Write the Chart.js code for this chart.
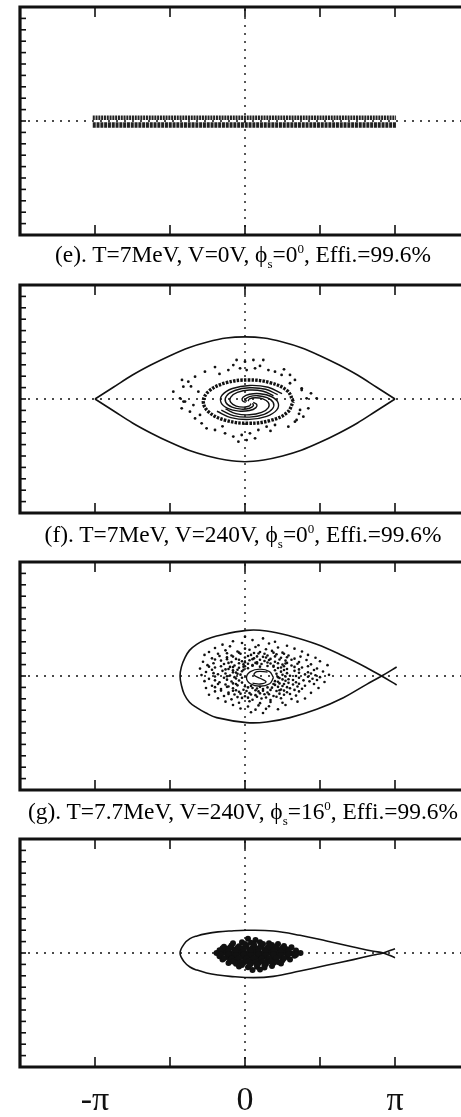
<!DOCTYPE html>
<html>
<head>
<meta charset="utf-8">
<script src="https://cdn.jsdelivr.net/npm/chart.js@4.4.1/dist/chart.umd.min.js"></script>
<style>
  html, body { margin: 0; padding: 0; background: #fff; overflow: hidden; }
  body { width: 461px; height: 1117px; position: relative; }
  canvas { position: absolute; left: 0; }
  .cap { position: absolute; left: 20px; width: 446px; text-align: center; font-family: "Liberation Serif", "Times New Roman", serif;
         font-size: 23.4px; line-height: 23px; color: #000; white-space: nowrap; }
  .cap sub, .cap sup { font-size: 13px; line-height: 0; }
</style>
</head>
<body>
<canvas id="pe" width="461" height="243" style="top:0px"></canvas>
<div class="cap" style="top:243px">(e). T=7MeV, V=0V, ϕ<sub>s</sub>=0<sup>0</sup>, Effi.=99.6%</div>
<canvas id="pf" width="461" height="244" style="top:277px"></canvas>
<div class="cap" style="top:523px">(f). T=7MeV, V=240V, ϕ<sub>s</sub>=0<sup>0</sup>, Effi.=99.6%</div>
<canvas id="pg" width="461" height="244" style="top:554px"></canvas>
<div class="cap" style="top:800px">(g). T=7.7MeV, V=240V, ϕ<sub>s</sub>=16<sup>0</sup>, Effi.=99.6%</div>
<canvas id="ph" width="461" height="286" style="top:831px"></canvas>
<script>
// phase axis in units of pi, energy axis in arbitrary units
const xRange = [-1.5, 1.44];
const yRange = [-10, 10];
const xTicks = [-1, -0.5, 0, 0.5, 1];
const xLabelValues = [-1, 0, 1];
const xLabelTexts = ["-π", "0", "π"];
const yTicks = [-9, -8, -7, -6, -5, -4, -3, -2, -1, 0, 1, 2, 3, 4, 5, 6, 7, 8, 9];

const zeroH = [[-1.5, 0], [1.44, 0]];
const zeroV = [[0, -10], [0, 10]];

// (e) unbunched beam band
const eBandUpper = [[-1.015, 0.28], [1.007, 0.28]];
const eBandLower = [[-1.015, -0.36], [1.007, -0.36]];

// (f) stationary bucket
const fSepX = [-1, -0.875, -0.75, -0.625, -0.5, -0.375, -0.25, -0.125, 0, 0.125, 0.25, 0.375, 0.5, 0.625, 0.75, 0.875, 1];
const fSepTop = [0, 1.05, 2.1, 3.0, 3.8, 4.5, 5.0, 5.35, 5.45, 5.35, 5.0, 4.5, 3.8, 3.0, 2.1, 1.05, 0];
const fSepBottom = [0, -1.05, -2.1, -3.0, -3.8, -4.5, -5.0, -5.35, -5.5, -5.35, -5.0, -4.5, -3.8, -3.0, -2.1, -1.05, 0];
const fRing = [[0.322, -0.23], [0.282, 0.72], [0.172, 1.415], [0.022, 1.67], [-0.128, 1.415], [-0.238, 0.72], [-0.278, -0.23],
  [-0.238, -1.18], [-0.128, -1.875], [0.022, -2.13], [0.172, -1.875], [0.282, -1.18], [0.322, -0.23]];
const fArmA0 = [[0.005, -0.3], [-0.018, -0.13], [-0.013, 0.156], [0.03, 0.413], [0.101, 0.466], [0.175, 0.219], [0.22, -0.3],
  [0.212, -0.951], [0.144, -1.521], [0.03, -1.788], [-0.094, -1.628], [-0.187, -1.075]];
const fArmA1 = [[0.01, -0.23], [0.004, -0.018], [0.03, 0.212], [0.085, 0.291], [0.147, 0.119], [0.188, -0.3], [0.184, -0.85],
  [0.128, -1.346], [0.03, -1.587], [-0.078, -1.455], [-0.158, -0.974]];
const fArmA2 = [[0.02, -0.193], [0.03, 0.01], [0.069, 0.115], [0.119, 0.018], [0.155, -0.3], [0.156, -0.75], [0.111, -1.173],
  [0.03, -1.385], [-0.061, -1.28], [-0.13, -0.874]];
const fArmB0 = [[0.055, -0.3], [0.078, -0.47], [0.073, -0.756], [0.03, -1.013], [-0.041, -1.066], [-0.115, -0.819], [-0.16, -0.3],
  [-0.152, 0.351], [-0.084, 0.921], [0.03, 1.188], [0.154, 1.028], [0.247, 0.475]];
const fArmB1 = [[0.05, -0.37], [0.056, -0.582], [0.03, -0.812], [-0.025, -0.891], [-0.087, -0.719], [-0.128, -0.3], [-0.124, 0.25],
  [-0.068, 0.746], [0.03, 0.987], [0.138, 0.855], [0.218, 0.374]];
const fArmB2 = [[0.04, -0.407], [0.03, -0.61], [-0.009, -0.715], [-0.059, -0.618], [-0.095, -0.3], [-0.096, 0.15], [-0.051, 0.573],
  [0.03, 0.785], [0.121, 0.68], [0.19, 0.274]];
const fHalo = [[-0.056, 3.42], [0, 3.27], [0.056, 3.42], [0.122, 3.42], [-0.033, 2.69], [0.011, 2.54], [0.067, 2.69], [-0.111, 2.54],
  [0.156, 2.54], [0.2, 2.4], [0.244, 2.11], [0.3, 2.11], [-0.078, 2.98], [-0.267, 2.4], [-0.333, 1.96], [-0.378, 1.52],
  [-0.411, 1.08], [-0.433, 0.06], [-0.4, -0.23], [-0.422, -0.82], [-0.367, -1.11], [-0.333, -1.7], [-0.289, -2.13],
  [-0.256, -2.57], [-0.311, 0.64], [-0.344, -0.53], [-0.478, 0.64], [-0.42, 1.67], [-0.41, -0.23], [0.333, 1.67],
  [0.378, 0.94], [0.411, 0.06], [0.478, 0.06], [0.422, -0.82], [0.389, -1.55], [0.333, -1.99], [0.289, -2.43], [0.367, -0.96],
  [0.3, 1.38], [0.378, 0.79], [0.344, -1.84], [-0.2, -2.72], [-0.133, -3.01], [-0.078, -3.3], [-0.022, -3.16], [0.033, -3.01],
  [0.089, -2.72], [0.144, -2.43], [0.2, -2.28], [-0.044, -3.74], [0.011, -3.6], [0.067, -3.45], [-0.2, 2.8], [0.26, 2.6],
  [-0.17, 2.2], [0.1, 2.9], [-0.3, -1.4], [0.36, -1.3], [0.44, 0.5], [-0.36, 1.1], [0.17, -2.8], [-0.15, -2.4]];

// (g) accelerating bucket
const gSep = [[1.011, -0.79], [0.911, 0], [0.811, 0.73], [0.656, 1.75], [0.478, 2.78], [0.3, 3.51], [0.144, 3.95], [0.011, 4.0],
  [-0.189, 3.51], [-0.26, 3.2], [-0.322, 2.78], [-0.37, 2.25], [-0.4, 1.61], [-0.424, 0.8], [-0.433, 0], [-0.424, -0.8],
  [-0.405, -1.6], [-0.37, -2.3], [-0.322, -2.78], [-0.26, -3.25], [-0.189, -3.65], [0.011, -4.09], [0.144, -4.04], [0.3, -3.65],
  [0.478, -2.92], [0.656, -1.9], [0.811, -0.73], [0.911, 0], [1.011, 0.79]];
const gCoreRing = [[0.19, -0.15], [0.164, 0.38], [0.1, 0.6], [0.036, 0.38], [0.01, -0.15], [0.036, -0.68], [0.1, -0.9],
  [0.164, -0.68], [0.19, -0.15]];
const gCoreS = [[0.15, 0.35], [0.08, 0.38], [0.06, 0.1], [0.1, -0.2], [0.14, -0.5], [0.1, -0.7], [0.05, -0.62]];
const gCloud = [[0.0, 3.45], [0.12, 3.3], [-0.08, 3.05], [0.05, 3.15], [0.2, 3.0], [-0.15, 2.75], [-0.02, 2.9], [0.09, 2.7],
  [0.16, 2.85], [0.28, 2.65], [-0.2, 2.45], [-0.1, 2.6], [0.0, 2.4], [0.07, 2.55], [0.14, 2.35], [0.22, 2.5], [0.33, 2.4],
  [-0.24, 2.1], [-0.13, 2.25], [-0.05, 2.15], [0.03, 2.3], [0.1, 2.1], [0.18, 2.2], [0.25, 2.05], [0.38, 2.15],
  [-0.27, 1.85], [-0.18, 1.95], [-0.09, 1.8], [-0.03, 1.95], [0.04, 1.85], [0.09, 1.98], [0.15, 1.8], [0.21, 1.9], [0.29, 1.8], [0.42, 1.85],
  [-0.22, 1.55], [-0.12, 1.65], [-0.06, 1.5], [0.0, 1.62], [0.06, 1.55], [0.12, 1.68], [0.17, 1.5], [0.24, 1.6], [0.33, 1.52], [0.47, 1.6],
  [-0.28, 1.25], [-0.16, 1.35], [-0.09, 1.22], [-0.02, 1.3], [0.03, 1.38], [0.08, 1.2], [0.13, 1.32], [0.2, 1.25], [0.27, 1.35], [0.36, 1.22], [0.5, 1.3],
  [-0.25, 0.95], [-0.14, 1.05], [-0.07, 0.92], [-0.01, 1.02], [0.05, 0.95], [0.11, 1.05], [0.19, 0.9], [0.25, 1.0], [0.31, 0.92], [0.44, 1.02], [0.55, 0.95],
  [-0.3, 0.65], [-0.2, 0.75], [-0.11, 0.62], [-0.04, 0.72], [0.02, 0.68], [0.22, 0.7], [0.28, 0.62], [0.38, 0.75], [0.48, 0.66],
  [-0.26, 0.35], [-0.15, 0.45], [-0.08, 0.32], [-0.02, 0.42], [0.24, 0.38], [0.33, 0.45], [0.42, 0.33], [0.52, 0.4],
  [-0.29, 0.08], [-0.18, 0.15], [-0.1, 0.05], [-0.03, 0.12], [0.25, 0.1], [0.3, 0.02], [0.4, 0.14], [0.47, 0.06], [0.56, 0.1],
  [-0.24, -0.25], [-0.14, -0.15], [-0.06, -0.22], [0.23, -0.18], [0.29, -0.28], [0.36, -0.15], [0.45, -0.24],
  [-0.27, -0.45], [-0.17, -0.55], [-0.09, -0.48], [-0.02, -0.58], [0.22, -0.5], [0.27, -0.42], [0.34, -0.55], [0.43, -0.47], [0.53, -0.52],
  [-0.22, -0.85], [-0.13, -0.75], [-0.05, -0.82], [0.0, -0.9], [0.2, -0.78], [0.25, -0.88], [0.32, -0.75], [0.4, -0.85],
  [-0.26, -1.05], [-0.16, -1.15], [-0.08, -1.08], [-0.01, -1.2], [0.05, -1.05], [0.12, -1.15], [0.18, -1.02], [0.24, -1.18], [0.3, -1.08], [0.38, -1.12], [0.49, -1.05],
  [-0.2, -1.35], [-0.11, -1.45], [-0.04, -1.38], [0.03, -1.5], [0.09, -1.35], [0.15, -1.45], [0.21, -1.32], [0.28, -1.42], [0.36, -1.35], [0.44, -1.48],
  [-0.24, -1.65], [-0.14, -1.75], [-0.07, -1.62], [0.0, -1.78], [0.07, -1.68], [0.13, -1.6], [0.19, -1.75], [0.26, -1.65], [0.34, -1.72],
  [-0.18, -1.95], [-0.09, -2.05], [-0.02, -1.92], [0.05, -2.08], [0.11, -1.98], [0.17, -2.1], [0.24, -1.95], [0.31, -2.02], [0.4, -1.98],
  [-0.13, -2.25], [-0.04, -2.35], [0.03, -2.22], [0.1, -2.38], [0.17, -2.28], [0.25, -2.35], [0.35, -2.25],
  [-0.08, -2.55], [0.02, -2.68], [0.09, -2.58], [0.16, -2.65], [0.27, -2.55], [-0.03, -2.85], [0.07, -2.95], [0.14, -2.88], [0.22, -2.92],
  [0.04, -3.18], [0.12, -3.25],
  [-0.08, 0.5], [-0.05, 0.2], [-0.07, -0.1], [-0.04, -0.4], [-0.06, -0.7], [0.0, 0.85], [0.05, 0.9], [0.1, 0.82], [0.15, 0.88],
  [0.2, 0.5], [0.21, 0.2], [0.22, -0.1], [0.2, -0.45], [0.19, -0.7], [0.15, -1.0], [0.08, -1.1], [0.02, -1.0], [-0.01, 0.55],
  [-0.02, -0.15], [0.24, 0.75], [0.26, -0.7], [-0.1, 0.8], [-0.12, -0.95], [0.07, 1.15], [0.17, 1.1], [0.0, 1.2], [0.12, -1.3],
  [0.23, -1.25], [-0.06, -1.25], [0.27, 1.1]];
const gCloudCore = [[-0.12, 2.0], [-0.04, 2.05], [0.06, 2.02], [0.13, 1.95], [0.19, 2.05], [0.26, 1.95],
  [-0.17, 1.75], [-0.08, 1.7], [0.02, 1.75], [0.08, 1.72], [0.14, 1.62], [0.2, 1.72], [0.28, 1.65], [0.37, 1.7],
  [-0.2, 1.45], [-0.12, 1.48], [-0.04, 1.42], [0.05, 1.48], [0.1, 1.42], [0.16, 1.4], [0.23, 1.45], [0.31, 1.42], [0.41, 1.4],
  [-0.21, 1.12], [-0.11, 1.15], [-0.04, 1.12], [0.02, 1.08], [0.08, 1.1], [0.15, 1.18], [0.22, 1.12], [0.28, 1.15], [0.35, 1.08],
  [-0.24, 0.82], [-0.16, 0.85], [-0.08, 0.78], [-0.01, 0.82], [0.19, 0.82], [0.26, 0.85], [0.33, 0.8], [0.42, 0.85],
  [-0.22, 0.55], [-0.13, 0.58], [-0.05, 0.55], [0.26, 0.52], [0.36, 0.58], [0.46, 0.52],
  [-0.21, 0.25], [-0.13, 0.22], [-0.06, 0.3], [0.28, 0.25], [0.36, 0.28], [0.44, 0.22],
  [-0.2, -0.05], [-0.12, -0.02], [0.27, -0.05], [0.34, 0.0], [0.42, -0.06], [0.5, -0.1],
  [-0.2, -0.38], [-0.12, -0.32], [0.25, -0.3], [0.32, -0.35], [0.39, -0.38], [0.48, -0.35],
  [-0.18, -0.7], [-0.08, -0.65], [0.23, -0.65], [0.29, -0.6], [0.36, -0.68], [0.46, -0.7],
  [-0.2, -0.98], [-0.11, -0.92], [0.04, -0.88], [0.1, -0.95], [0.22, -0.95], [0.28, -0.98], [0.35, -0.92],
  [-0.16, -1.28], [-0.08, -1.3], [0.01, -1.32], [0.07, -1.25], [0.17, -1.22], [0.26, -1.28], [0.33, -1.22],
  [-0.11, -1.58], [-0.03, -1.55], [0.04, -1.62], [0.1, -1.52], [0.16, -1.6], [0.23, -1.55], [0.3, -1.58],
  [-0.05, -1.85], [0.02, -1.9], [0.08, -1.82], [0.14, -1.88], [0.21, -1.82]];

// (h) final bunch
const hSep = [[1.0, -0.41], [0.922, 0], [0.856, 0.15], [0.722, 0.53], [0.544, 1.05], [0.367, 1.55], [0.189, 1.93], [0.011, 1.99],
  [-0.1, 1.93], [-0.18, 1.85], [-0.256, 1.7], [-0.32, 1.5], [-0.367, 1.26], [-0.405, 0.8], [-0.433, 0], [-0.405, -0.78],
  [-0.367, -1.23], [-0.32, -1.5], [-0.256, -1.75], [-0.18, -1.93], [-0.1, -2.05], [0.056, -2.16], [0.189, -2.05], [0.367, -1.58],
  [0.544, -1.08], [0.722, -0.58], [0.856, -0.18], [0.922, 0], [1.0, 0.38]];
const hCloud = [[0.02, 1.25], [0.07, 1.15], [-0.08, 0.85], [-0.02, 0.95], [0.04, 0.9], [0.1, 0.95], [0.16, 0.85], [0.22, 0.8],
  [-0.14, 0.55], [-0.09, 0.65], [-0.04, 0.6], [0.01, 0.68], [0.06, 0.58], [0.11, 0.66], [0.16, 0.6], [0.21, 0.55], [0.26, 0.62], [0.31, 0.5],
  [-0.17, 0.25], [-0.12, 0.35], [-0.07, 0.28], [-0.02, 0.36], [0.03, 0.3], [0.08, 0.38], [0.13, 0.28], [0.18, 0.34], [0.23, 0.27], [0.28, 0.33], [0.34, 0.22],
  [-0.19, 0.0], [-0.14, 0.05], [-0.09, -0.03], [-0.04, 0.04], [0.01, -0.02], [0.06, 0.05], [0.11, -0.04], [0.16, 0.03], [0.21, -0.02], [0.26, 0.05], [0.31, -0.03], [0.37, 0.0],
  [-0.17, -0.28], [-0.12, -0.35], [-0.07, -0.27], [-0.02, -0.33], [0.03, -0.26], [0.08, -0.35], [0.13, -0.28], [0.18, -0.34], [0.23, -0.27], [0.28, -0.32], [0.33, -0.25],
  [-0.15, -0.58], [-0.1, -0.65], [-0.05, -0.57], [0.0, -0.63], [0.05, -0.56], [0.1, -0.66], [0.15, -0.6], [0.2, -0.55], [0.25, -0.64], [0.3, -0.58],
  [-0.11, -0.88], [-0.06, -0.95], [-0.01, -0.86], [0.04, -0.94], [0.09, -0.9], [0.14, -0.96], [0.19, -0.87], [0.24, -0.92],
  [-0.04, -1.18], [0.02, -1.25], [0.08, -1.2], [0.13, -1.28], [0.18, -1.15], [0.05, -1.5], [0.1, -1.45],
  [-0.15, 0.42], [-0.1, 0.48], [-0.05, 0.45], [0.0, 0.5], [0.05, 0.44], [0.1, 0.5], [0.15, 0.45], [0.2, 0.42], [0.25, 0.46],
  [-0.16, 0.14], [-0.11, 0.18], [-0.06, 0.12], [-0.01, 0.17], [0.04, 0.13], [0.09, 0.18], [0.14, 0.12], [0.19, 0.16], [0.24, 0.12], [0.29, 0.16],
  [-0.16, -0.15], [-0.11, -0.12], [-0.06, -0.18], [-0.01, -0.14], [0.04, -0.17], [0.09, -0.12], [0.14, -0.18], [0.19, -0.13], [0.24, -0.17], [0.29, -0.12], [0.34, -0.15],
  [-0.14, -0.45], [-0.09, -0.48], [-0.04, -0.43], [0.01, -0.47], [0.06, -0.44], [0.11, -0.49], [0.16, -0.45], [0.21, -0.42], [0.26, -0.47],
  [-0.08, -0.75], [-0.03, -0.78], [0.02, -0.74], [0.07, -0.79], [0.12, -0.76], [0.17, -0.72], [0.22, -0.78],
  [-0.02, -1.05], [0.03, -1.08], [0.08, -1.03], [0.13, -1.08], [0.06, 0.75], [0.12, 0.78], [0.0, 0.8], [0.18, 0.7]];

const INK = "#111";
const pts = arr => arr.map(([x, y]) => ({ x, y }));
const zip = (xs, ys) => xs.map((x, i) => ({ x, y: ys[i] }));

function curve(data, width = 1.6, tension = 0.4, dash = [], color = INK) {
  return { data, showLine: true, pointRadius: 0, borderColor: color, borderWidth: width, borderDash: dash, tension, fill: false };
}
function dots(data, r) {
  return { data: pts(data), showLine: false, pointRadius: r, pointBackgroundColor: INK, pointBorderWidth: 0 };
}
const zeroLines = [
  curve(pts(zeroH), 1.4, 0, [2, 6]),
  curve(pts(zeroV), 1.4, 0, [2, 6]),
];

// frame and inward ticks, placed from the chart's own scales
const framePlugin = {
  id: "frame",
  afterDatasetsDraw(chart) {
    const { ctx, chartArea: a, scales: { x, y } } = chart;
    const seg = (x1, y1, x2, y2) => { ctx.beginPath(); ctx.moveTo(x1, y1); ctx.lineTo(x2, y2); ctx.stroke(); };
    ctx.save();
    ctx.strokeStyle = INK;
    ctx.lineWidth = 1.6;
    xTicks.forEach(v => {
      const px = x.getPixelForValue(v);
      seg(px, a.top, px, a.top + 10);
      seg(px, a.bottom, px, a.bottom - 10);
    });
    yTicks.forEach(v => {
      const py = y.getPixelForValue(v);
      seg(a.left, py, a.left + 6, py);
    });
    ctx.lineWidth = 3.2;
    ctx.beginPath();
    ctx.moveTo(chart.width, a.top);
    ctx.lineTo(a.left, a.top);
    ctx.lineTo(a.left, a.bottom);
    ctx.lineTo(chart.width, a.bottom);
    ctx.stroke();
    ctx.restore();
  }
};

function makePanel(id, datasets, pad, withLabels) {
  const xScale = { type: "linear", min: xRange[0], max: xRange[1], display: false };
  if (withLabels) {
    Object.assign(xScale, {
      display: true,
      grid: { display: false }, border: { display: false },
      afterBuildTicks: axis => { axis.ticks = xLabelValues.map(v => ({ value: v })); },
      afterFit: axis => { axis.height = 50; },
      ticks: {
        autoSkip: false, maxRotation: 0, padding: 11, color: INK,
        font: { family: "'Liberation Serif', 'Times New Roman', serif", size: 34, lineHeight: 0.9 },
        callback: v => xLabelTexts[xLabelValues.indexOf(v)]
      }
    });
  }
  return new Chart(document.getElementById(id), {
    type: "scatter",
    data: { datasets: [...datasets, ...zeroLines] },
    options: {
      responsive: false,
      animation: false,
      events: [],
      layout: { padding: pad, autoPadding: false },
      plugins: { legend: { display: false }, tooltip: { enabled: false } },
      scales: {
        x: xScale,
        y: { type: "linear", min: yRange[0], max: yRange[1], display: false }
      }
    },
    plugins: [framePlugin]
  });
}

const padStd = { left: 20, right: 0, top: 8, bottom: 8 };

makePanel("pe", [
  curve(pts(eBandUpper), 4.5, 0, [2, 0.8], "#222"),
  curve(pts(eBandLower), 5.5, 0, [3, 0.8], "#222"),
], { left: 20, right: 0, top: 7, bottom: 8 }, false);

makePanel("pf", [
  curve(zip(fSepX, fSepTop), 1.6, 0.35),
  curve(zip(fSepX, fSepBottom), 1.6, 0.35),
  curve(pts(fArmA0), 1.4), curve(pts(fArmA1), 1.4), curve(pts(fArmA2), 1.4),
  curve(pts(fArmB0), 1.4), curve(pts(fArmB1), 1.4), curve(pts(fArmB2), 1.4),
  curve(pts(fRing), 3.4, 0.4, [2.5, 1.2]),
  dots(fHalo, 1.4),
], padStd, false);

makePanel("pg", [
  curve(pts(gSep), 1.6, 0.4),
  curve(pts(gCoreRing), 1.3), curve(pts(gCoreS), 1.3),
  dots(gCloud, 1.3),
  dots(gCloudCore, 1.3),
], padStd, false);

makePanel("ph", [
  curve(pts(hSep), 1.6, 0.4),
  dots(hCloud, 3),
], { left: 20, right: 0, top: 8, bottom: 0 }, true);
</script>
</body>
</html>
